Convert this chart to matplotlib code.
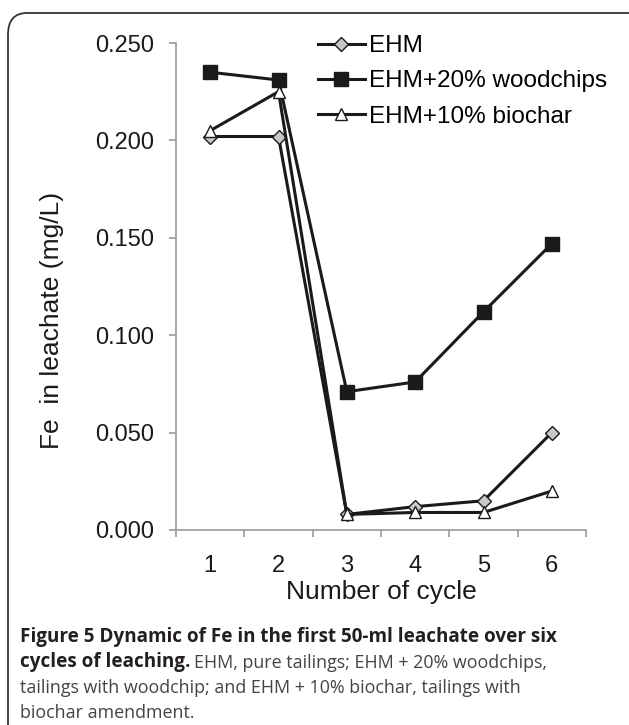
import matplotlib
matplotlib.use("Agg")
import matplotlib.pyplot as plt
from matplotlib.patches import FancyBboxPatch

# data
cycles = [1, 2, 3, 4, 5, 6]
ehm = [0.202, 0.202, 0.008, 0.012, 0.015, 0.050]
woodchips = [0.235, 0.231, 0.071, 0.076, 0.112, 0.147]
biochar = [0.205, 0.225, 0.008, 0.009, 0.009, 0.020]
y_ticks = [0.0, 0.05, 0.10, 0.15, 0.20, 0.25]
y_ticklabels = ["0.000", "0.050", "0.100", "0.150", "0.200", "0.250"]

plt.rcParams["font.family"] = ["Liberation Sans", "DejaVu Sans"]

fig = plt.figure(figsize=(6.29, 7.25), dpi=100)
W, H = 629, 725

# rounded frame around the figure
frame = FancyBboxPatch((8 / W, -0.1), 1.2, (725 - 13) / H + 0.1,
                       boxstyle="round,pad=0,rounding_size=0.03",
                       transform=fig.transFigure, fc="none", ec="#333333", lw=1.3)
fig.patches.append(frame)

ax = fig.add_axes([176 / W, 1 - 530 / H, 410 / W, 487 / H])

line_kw = dict(color="#1a1a1a", lw=2.2, mec="#1a1a1a", mew=1.0)
ax.plot(cycles, ehm, marker="D", ms=7.5, mfc="#c8c8c8", label="EHM", **line_kw)
ax.plot(cycles, woodchips, marker="s", ms=9.5, mfc="#1a1a1a", label="EHM+20% woodchips", **line_kw)
ax.plot(cycles, biochar, marker="^", ms=9, mfc="white", label="EHM+10% biochar", **line_kw)

ax.set_xlim(0.5, 6.5)
ax.set_ylim(0, 0.25)
ax.set_yticks(y_ticks)
ax.set_yticklabels(y_ticklabels)
ax.set_xticks(cycles)
ax.set_xticks([c + 0.5 for c in [0] + cycles], minor=True)
ax.tick_params(axis="x", which="major", length=0, labelsize=17, pad=18, colors="#1a1a1a")
ax.tick_params(axis="x", which="minor", length=5, width=1.2, color="#999999")
ax.tick_params(axis="y", length=5, width=1.2, color="#999999", labelsize=17, pad=11,
               labelcolor="#1a1a1a")

for s in ["top", "right"]:
    ax.spines[s].set_visible(False)
for s in ["left", "bottom"]:
    ax.spines[s].set_color("#999999")
    ax.spines[s].set_linewidth(1.2)

ax.set_xlabel("Number of cycle", fontsize=19, color="#1a1a1a")
ax.xaxis.set_label_coords(0.5, -(580 - 530) / 487)
ax.set_ylabel("Fe  in leachate (mg/L)", fontsize=19, color="#1a1a1a")
ax.yaxis.set_label_coords(-(176 - 64) / 410, (530 - 320) / 487)

ax.legend(loc="upper left", bbox_to_anchor=((318 - 176) / 410, (530 - 35) / 487),
          frameon=False, fontsize=17.5, numpoints=1, handlelength=1.93, handletextpad=0.16,
          labelspacing=0.55, borderpad=0, borderaxespad=0)

# caption
cap = 13.6
cap_r = 12.9
cap_bold = "#231f20"
cap_reg = "#444444"
y1, step = 637, 25.5
fig.text(20 / W, 1 - y1 / H, "Figure 5 Dynamic of Fe in the first 50-ml leachate over six",
         fontsize=cap, fontweight="bold", family="Open Sans", color=cap_bold, va="center")
t = fig.text(20 / W, 1 - (y1 + step) / H, "cycles of leaching.", fontsize=cap, fontweight="bold",
             family="Open Sans", color=cap_bold, va="center")
fig.canvas.draw()
bb = t.get_window_extent()
fig.text(bb.x1 / W + 4 / W, 1 - (y1 + step) / H, "EHM, pure tailings; EHM + 20% woodchips,",
         fontsize=cap_r, family="Open Sans", color=cap_reg, va="center")
fig.text(20 / W, 1 - (y1 + 2 * step) / H,
         "tailings with woodchip; and EHM + 10% biochar, tailings with",
         fontsize=cap_r, family="Open Sans", color=cap_reg, va="center")
fig.text(20 / W, 1 - (y1 + 3 * step) / H, "biochar amendment.",
         fontsize=cap_r, family="Open Sans", color=cap_reg, va="center")

fig.savefig("out.png", dpi=100)
